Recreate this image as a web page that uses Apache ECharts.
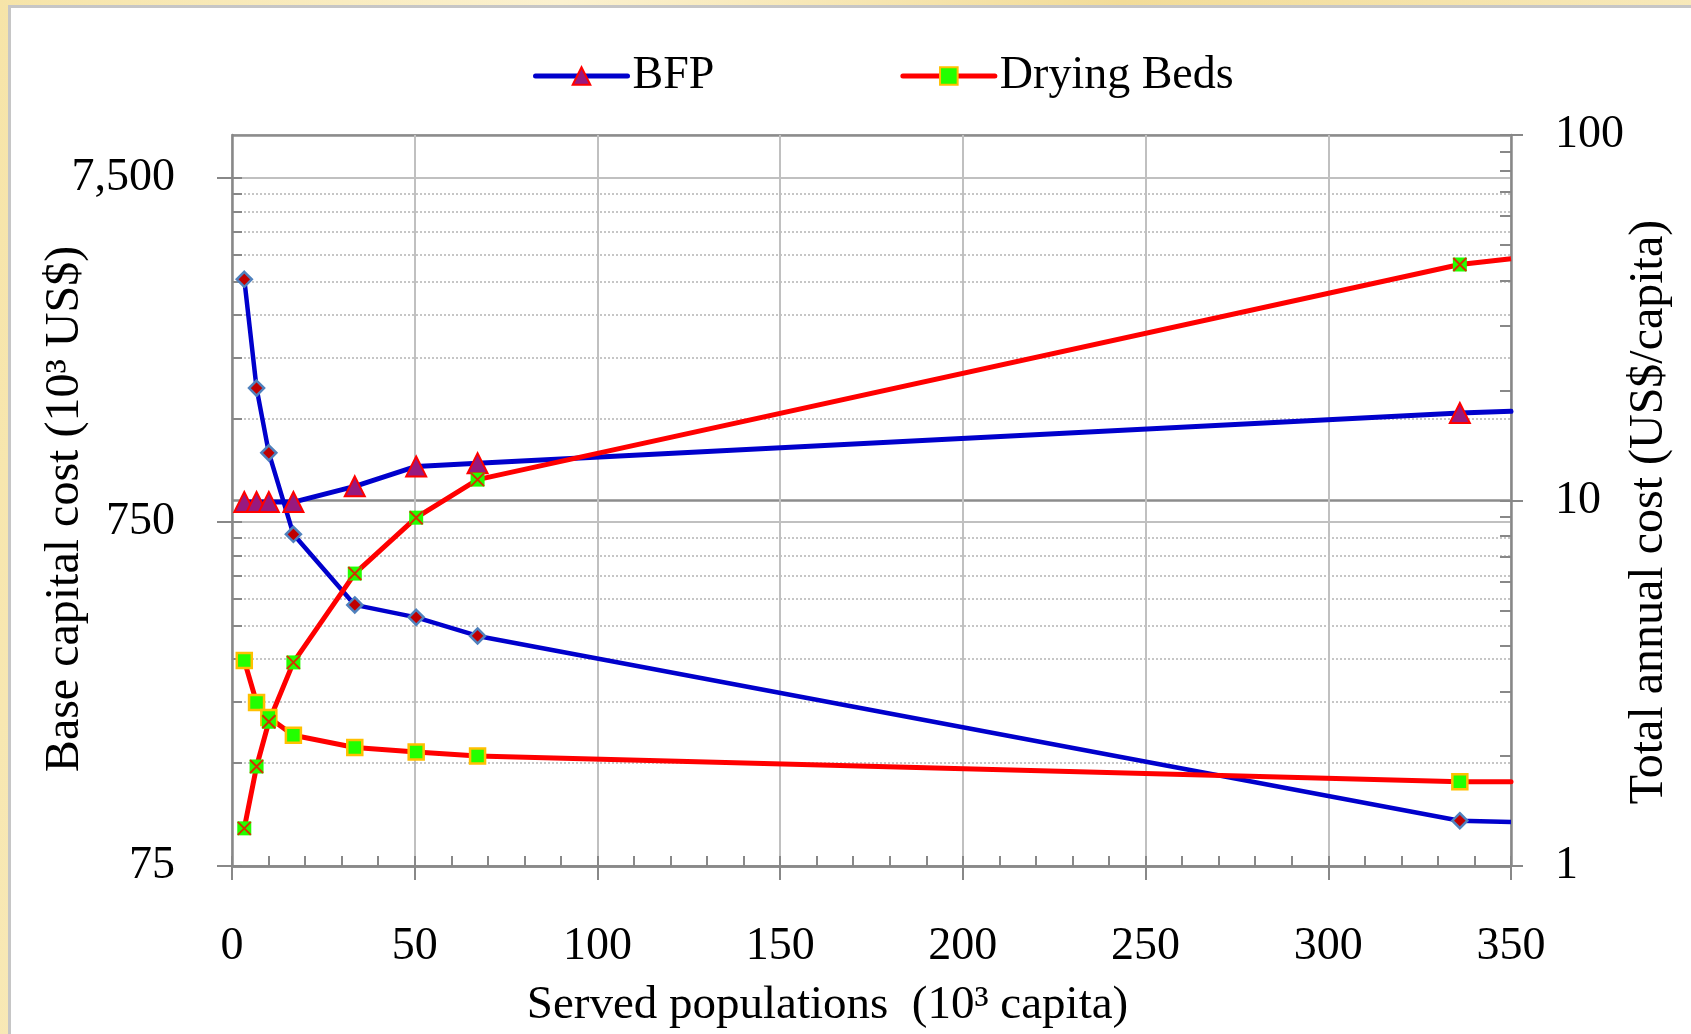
<!DOCTYPE html>
<html>
<head>
<meta charset="utf-8">
<title>BFP vs Drying Beds costs</title>
<script src="https://cdn.jsdelivr.net/npm/echarts@6/dist/echarts.min.js"></script>
<style>
  html, body { margin: 0; padding: 0; }
  body {
    width: 1691px; height: 1034px; position: relative; overflow: hidden;
    background: linear-gradient(100deg, #f6e4a8, #fbf1cf 30%, #f2dc98 60%, #f9edc4);
  }
  #frame {
    position: absolute; left: 8px; top: 5px; right: 0; bottom: 0;
    border-left: 3px solid #c6c6c6; border-top: 3px solid #c6c6c6; background: #fff;
  }
  #chart { position: absolute; left: 0; top: 0; width: 1691px; height: 1034px; }
</style>
</head>
<body>
<div id="frame"></div>
<div id="chart"></div>
<script>
// served populations, 10^3 capita (last entry = where the lines meet the right edge)
const population = [3.36, 6.72, 10.08, 16.8, 33.6, 50.4, 67.2, 336, 350]

// base capital cost, 10^3 US$ (left axis)
const bfpCapital = [857, 857, 857, 857, 952, 1088, 1112, 1555, 1573]
const bedsCapital = [96.5, 146, 197, 293, 531, 772, 996, 4203, 4366]

// total annual cost, US$/capita (right axis)
const bfpAnnual = [40.3, 20.3, 13.5, 8.08, 5.18, 4.79, 4.26, 1.33, 1.32]
const bedsAnnual = [3.65, 2.8, 2.55, 2.28, 2.11, 2.05, 2.0, 1.7, 1.7]

// ticks
const leftMajor = [75, 750, 7500]
const leftMinor = [150, 225, 300, 375, 450, 525, 600, 675, 1500, 2250, 3000, 3750, 4500, 5250, 6000, 6750]
const rightMajor = [1, 10, 100]
const rightMinor = [2, 3, 4, 5, 6, 7, 8, 9, 20, 30, 40, 50, 60, 70, 80, 90]

const FONT = '"Liberation Serif", "Times New Roman", serif'
const BLUE = '#0000cc'
const RED = '#ff0000'
const AXIS_GRAY = '#888888'

// last point only continues the line to the edge, no marker
function points(values) {
  return values.map((v, i) => {
    const p = { value: [population[i], v] }
    if (i === values.length - 1) p.symbol = 'none'
    return p
  })
}

const chart = echarts.init(document.getElementById('chart'))

const axisLine = { show: true, lineStyle: { color: AXIS_GRAY, width: 2.5 } }
const tickLine = { color: AXIS_GRAY, width: 2 }
const labelText = { fontFamily: FONT, fontSize: 46, color: '#000' }
const nameText = { fontFamily: FONT, fontSize: 47, color: '#000' }
const off = { show: false }

const option = {
  animation: false,
  tooltip: { trigger: 'item' },
  legend: {
    left: 528,
    top: 48,
    itemWidth: 92,
    itemHeight: 22,
    itemGap: 186,
    data: ['BFP', 'Drying Beds'],
    lineStyle: { width: 5, cap: 'round' },
    textStyle: { fontFamily: FONT, fontSize: 46, color: '#000' },
  },
  grid: {
    left: 232,
    right: 180,
    top: 135,
    bottom: 168,
    show: true,
    borderColor: '#a8a8a8',
    borderWidth: 1.5,
  },
  xAxis: [
    {
      type: 'value',
      min: 0,
      max: 350,
      interval: 50,
      position: 'bottom',
      name: 'Served populations  (10³ capita)',
      nameLocation: 'middle',
      nameGap: 116,
      nameMoveOverlap: false,
      nameTextStyle: Object.assign({}, nameText, { padding: [0, 88, 0, 0] }),
      axisLine: axisLine,
      axisTick: { show: true, length: 14, lineStyle: tickLine },
      axisLabel: Object.assign({ margin: 58 }, labelText),
      splitLine: { show: true, lineStyle: { color: '#c0c0c0', width: 2 } },
    },
    {
      // minor ticks every 10
      type: 'value',
      min: 0,
      max: 350,
      interval: 10,
      position: 'bottom',
      axisLine: off,
      axisLabel: off,
      splitLine: off,
      axisTick: { show: true, inside: true, length: 10, lineStyle: tickLine },
    },
  ],
  yAxis: [
    {
      type: 'log',
      min: 75,
      max: 10000,
      position: 'left',
      name: 'Base capital cost (10³ US$)',
      nameLocation: 'middle',
      nameRotate: 90,
      nameGap: 143,
      nameMoveOverlap: false,
      nameTextStyle: Object.assign({}, nameText, { fontSize: 48, padding: [0, 17, 0, 0] }),
      axisLine: axisLine,
      axisTick: { show: true, length: 15, customValues: leftMajor, lineStyle: tickLine },
      axisLabel: Object.assign({
        margin: 57,
        customValues: leftMajor,
        formatter: (v) => Math.round(v).toLocaleString('en-US'),
      }, labelText),
      splitLine: { show: true, lineStyle: { color: '#c0c0c0', width: 2 } },
    },
    {
      // inner ticks on the left
      type: 'log',
      min: 75,
      max: 10000,
      position: 'left',
      axisLine: off,
      axisLabel: off,
      splitLine: off,
      axisTick: { show: true, inside: true, length: 10, customValues: leftMajor.concat(leftMinor), lineStyle: tickLine },
    },
    {
      // dotted minor grid of the left axis
      type: 'log',
      min: 75,
      max: 10000,
      position: 'left',
      axisLine: off,
      axisLabel: off,
      axisTick: { show: false, customValues: leftMinor },
      splitLine: { show: true, lineStyle: { color: '#b4b4b4', width: 1.5, type: [2, 2] } },
    },
    {
      type: 'log',
      min: 1,
      max: 100,
      position: 'right',
      name: 'Total annual cost (US$/capita)',
      nameLocation: 'middle',
      nameRotate: 90,
      nameGap: 114,
      nameMoveOverlap: false,
      nameTextStyle: Object.assign({}, nameText, { fontSize: 48, padding: [0, 23, 0, 0] }),
      axisLine: axisLine,
      axisTick: { show: true, length: 12, customValues: rightMajor, lineStyle: tickLine },
      axisLabel: Object.assign({ margin: 44, customValues: rightMajor }, labelText),
      splitLine: { show: true, lineStyle: { color: '#8c8c8c', width: 2.5 } },
    },
    {
      // inner ticks on the right
      type: 'log',
      min: 1,
      max: 100,
      position: 'right',
      axisLine: off,
      axisLabel: off,
      splitLine: off,
      axisTick: { show: true, inside: true, length: 11, customValues: rightMajor.concat(rightMinor), lineStyle: tickLine },
    },
  ],
  series: [
    {
      name: 'BFP',
      type: 'line',
      xAxisIndex: 0,
      yAxisIndex: 0,
      data: points(bfpCapital),
      symbol: 'triangle',
      symbolSize: 20,
      lineStyle: { color: BLUE, width: 5, cap: 'round' },
      itemStyle: { color: '#98197f', borderColor: RED, borderWidth: 2 },
    },
    {
      name: 'BFP',
      type: 'line',
      xAxisIndex: 0,
      yAxisIndex: 3,
      data: points(bfpAnnual),
      symbol: 'diamond',
      symbolSize: 15,
      lineStyle: { color: BLUE, width: 4.5 },
      itemStyle: { color: '#c00000', borderColor: '#4f81bd', borderWidth: 2.5 },
    },
    {
      name: 'Drying Beds',
      type: 'line',
      xAxisIndex: 0,
      yAxisIndex: 3,
      data: points(bedsAnnual),
      symbol: 'rect',
      symbolSize: 15,
      lineStyle: { color: RED, width: 5, cap: 'round' },
      itemStyle: { color: '#22ff00', borderColor: '#ffc000', borderWidth: 2.5 },
    },
    {
      name: 'Drying Beds',
      type: 'line',
      xAxisIndex: 0,
      yAxisIndex: 0,
      data: points(bedsCapital),
      symbol: 'rect',
      symbolSize: 14,
      lineStyle: { color: RED, width: 5 },
      itemStyle: { color: '#22ff00' },
    },
    {
      // red crosses on top of the green squares
      name: 'Drying Beds capital',
      type: 'scatter',
      xAxisIndex: 0,
      yAxisIndex: 0,
      data: bedsCapital.slice(0, -1).map((v, i) => [population[i], v]),
      symbol: 'path://M0,0L10,10M10,0L0,10',
      symbolSize: 13,
      itemStyle: { color: 'transparent', borderColor: RED, borderWidth: 2 },
      z: 3,
    },
  ],
}

chart.setOption(option)
</script>
</body>
</html>
